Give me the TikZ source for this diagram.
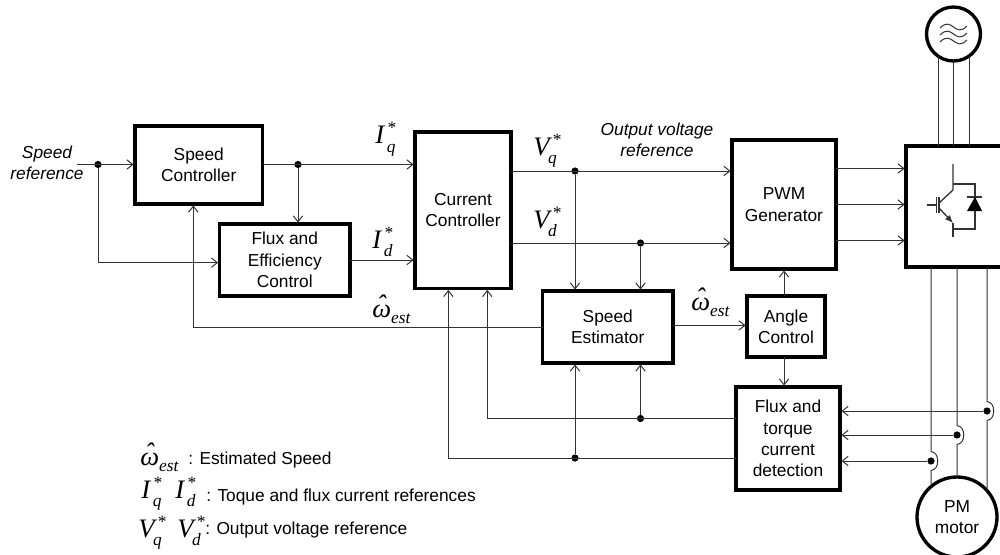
\documentclass[tikz,border=0pt]{standalone}
\usepackage{fontspec}
\setmainfont{Liberation Sans}
\newfontfamily\timesfont{Liberation Serif}
\usetikzlibrary{positioning, arrows.meta}

\def\px{0.75pt}
\newcommand{\symmain}[1]{{\fontsize{20}{24}\selectfont\timesfont\itshape #1}}
\newcommand{\symsub}[1]{{\fontsize{13}{15}\selectfont\timesfont\itshape #1}}
\newcommand{\refsym}[3]{\symmain{#1}\rlap{\kern2pt\raisebox{7.5pt}{\symsub{*}}}\kern#3\raisebox{-6.5pt}{\symsub{#2}}}
\newcommand{\omegaest}{\rlap{\kern3.5pt\raisebox{3pt}{\symmain{\char"02C6}}}\symmain{ω}\raisebox{-4.5pt}{\symsub{est}}}

\begin{document}
\begin{tikzpicture}[
    x=0.75pt, y=-0.75pt,
    % --- Styles ---
    block/.style={
        rectangle,
        draw=black,
        fill=white,
        line width=2.5pt,
        outer sep=0pt,
        inner sep=1pt,
        align=center,
        font=\fontsize{13}{16}\selectfont
    },
    wheel/.style={
        circle,
        draw=black,
        fill=white,
        line width=2.5pt,
        outer sep=0pt,
        inner sep=0pt,
        align=center,
        font=\fontsize{13}{16}\selectfont
    },
    label/.style={
        inner sep=0pt,
        align=center,
        font=\fontsize{13}{16}\selectfont
    },
    symbol/.style={
        inner sep=0pt,
        anchor=base west
    },
    wire/.style={
        draw=black!80,
        line width=0.75pt
    },
    arrow/.style={
        wire,
        shorten >=1pt,
        -{Straight Barb[length=4.5pt, width=7pt]}
    },
    dot/.style={
        circle,
        fill=black,
        inner sep=0pt,
        minimum size=5.4pt
    }
]
\clip (0,0) rectangle (1000,554);

% --- Blocks (relative positioning) ---
\node[block, anchor=north west, minimum width=127.5*\px, minimum height=78*\px] (spdctl) at (135,126) {Speed\\Controller};
\node[block, below right=20*\px and -43*\px of spdctl.south east, minimum width=130.5*\px, minimum height=72*\px] (fluxctl) {Flux and\\Efficiency\\Control};
\node[block, below right=-164*\px and 65*\px of fluxctl.south east, minimum width=96*\px, minimum height=156.5*\px] (curctl) {Current\\Controller};
\node[block, below right=2.5*\px and 31.5*\px of curctl.south east, minimum width=130.5*\px, minimum height=72*\px] (spdest) {Speed\\Estimator};
\node[block, below right=-148.5*\px and 221*\px of curctl.south east, minimum width=104*\px, minimum height=129*\px] (pwmgen) {PWM\\Generator};
\node[block, below right=-67*\px and 74*\px of spdest.south east, minimum width=78*\px, minimum height=61*\px] (anglectl) {Angle\\Control};
\node[block, below right=30*\px and -89*\px of anglectl.south east, minimum width=104*\px, minimum height=103*\px] (fluxdet) {Flux and\\torque\\current\\detection};
\node[block, below right=-123*\px and 70*\px of pwmgen.south east, minimum width=110*\px, minimum height=121*\px] (invbox) {};

\node[wheel, minimum size=54*\px] (source) at (953.5,34) {};
\node[wheel, minimum size=80*\px] (motor) at (957,517) {PM\\motor};

% --- Junctions ---
\coordinate (spdstart) at (77,164.5);
\node[dot] (dotin) at (98,164.5) {};
\node[dot] (dotiq) at (298,164.5) {};
\node[dot] (dotvq) at (575,171) {};
\node[dot] (dotvd) at (640.5,243) {};
\node[dot] (dotfa) at (640.5,418.5) {};
\node[dot] (dotfb) at (575,458) {};
\node[dot] (dotu) at (987,411) {};
\node[dot] (dotv) at (957,435) {};
\node[dot] (dotw) at (931,461) {};

% --- Labels ---
\node[label, font=\fontsize{13}{16}\selectfont\itshape] (spdref) at (47,163) {Speed\\reference};
\node[label, font=\fontsize{13}{16}\selectfont\itshape] (outref) at (657,139.5) {Output voltage\\reference};
\node[symbol] (lbliq) at (375,143.5) {\refsym{I}{q}{2pt}};
\node[symbol] (lblid) at (372,248) {\refsym{I}{d}{2pt}};
\node[symbol] (lblvq) at (533,155) {\refsym{V}{q}{-1pt}};
\node[symbol] (lblvd) at (533,228) {\refsym{V}{d}{-1pt}};
\node[symbol] (lblwa) at (372,317) {\omegaest};
\node[symbol] (lblwb) at (691,310) {\omegaest};

% --- Legend ---
\node[symbol] (keyw) at (140,465) {\omegaest};
\node[label, anchor=west] (keywtxt) at (188,460) {: Estimated Speed};
\node[symbol] (keyiq) at (141,498) {\refsym{I}{q}{2pt}};
\node[symbol] (keyid) at (175,498) {\refsym{I}{d}{2pt}};
\node[label, anchor=west] (keyitxt) at (206,497) {: Toque and flux current references};
\node[symbol] (keyvq) at (138,537) {\refsym{V}{q}{-1pt}};
\node[symbol] (keyvd) at (177,537) {\refsym{V}{d}{-1pt}};
\node[label, anchor=west] (keyvtxt) at (205,530) {: Output voltage reference};

% --- Arrows ---
\draw[arrow] (spdstart) -- (spdstart -| spdctl.west);
\draw[arrow] (dotin) |- ([yshift=-2pt]fluxctl.west);
\draw[arrow] (spdctl.east |- dotiq) -- (curctl.west |- dotiq);
\draw[arrow] (dotiq) -- (dotiq |- fluxctl.north);
\draw[arrow] (fluxctl.east) -- (fluxctl.east -| curctl.west);
\draw[arrow] (curctl.east |- dotvq) -- (pwmgen.west |- dotvq);
\draw[arrow] (curctl.east |- dotvd) -- (pwmgen.west |- dotvd);
\draw[arrow] (dotvq) -- (dotvq |- spdest.north);
\draw[arrow] (dotvd) -- (dotvd |- spdest.north);
\draw[arrow] ([yshift=1.2pt]spdest.east) -- ([yshift=1.2pt]spdest.east -| anglectl.west);
\draw[arrow] (spdest.west) -| ([xshift=-4.1pt]spdctl.south);
\draw[arrow] (pwmgen.south |- anglectl.north) -- (pwmgen.south);
\draw[arrow] (pwmgen.south |- anglectl.south) -- (pwmgen.south |- fluxdet.north);
\draw[arrow] (fluxdet.west |- dotfa) -| ([xshift=18.2pt]curctl.south);
\draw[arrow] (fluxdet.west |- dotfb) -| ([xshift=-11pt]curctl.south);
\draw[arrow] (dotfa) -- (dotfa |- spdest.south);
\draw[arrow] (dotfb) -- (dotfb |- spdest.south);
\draw[arrow] ([yshift=27pt]pwmgen.east) -- ([yshift=27pt]pwmgen.east -| invbox.west);
\draw[arrow] (pwmgen.east) -- (pwmgen.east -| invbox.west);
\draw[arrow] ([yshift=-27pt]pwmgen.east) -- ([yshift=-27pt]pwmgen.east -| invbox.west);
\draw[arrow] (dotu) -- (dotu -| fluxdet.east);
\draw[arrow] (dotv) -- (dotv -| fluxdet.east);
\draw[arrow] (dotw) -- (dotw -| fluxdet.east);

% --- Phase lines ---
\draw[wire] (source.236) -- (source.236 |- invbox.north);
\draw[wire] (source.south) -- (source.south |- invbox.north);
\draw[wire] (source.-54) -- (source.-54 |- invbox.north);
\draw[wire] (dotu |- invbox.south) -- ([yshift=7pt]dotu.center) .. controls +(9,0) and +(9,0) .. ([yshift=-7pt]dotu.center) -- (dotu |- motor.40);
\draw[wire] (dotv |- invbox.south) -- ([yshift=7pt]dotv.center) .. controls +(9,0) and +(9,0) .. ([yshift=-7pt]dotv.center) -- (dotv |- motor.north);
\draw[wire] (dotw |- invbox.south) -- ([yshift=7pt]dotw.center) .. controls +(9,0) and +(9,0) .. ([yshift=-7pt]dotw.center) -- (dotw |- motor.130);

% --- Source waves ---
\foreach \wavey in {-7,0,7} {
    \draw[wire] ([shift={(-13.5,\wavey+1)}]source.center) .. controls +(6,-6) and +(-4,-3) .. ([shift={(0,\wavey)}]source.center) .. controls +(4,3) and +(-6,6) .. ([shift={(13.5,\wavey-1)}]source.center);
}

% --- Switch symbol ---
\coordinate (swc) at (953,190);
\coordinate (swe) at (953,223);
\draw[wire, line width=1pt] (953,164) -- (swc) -- (939,203);
\draw[wire, line width=1pt] (939,197) -- (939,213);
\draw[wire, line width=1pt] (936.5,197) -- (936.5,213);
\draw[wire, line width=1pt] (927,205) -- (936.5,205);
\draw[wire, line width=1pt, -{Latex[length=6pt, width=5pt]}] (939,208) -- (swe);
\draw[wire, line width=1pt] (swe) -- (953,237);
\draw[wire, line width=1pt] (953,184) -- (975,184) -- (975,229) -- (953,229);
\draw[wire, line width=1pt] (967,197) -- (982,197);
\fill[black] (975,197) -- (982,211) -- (967,211) -- cycle;

\end{tikzpicture}
\end{document}
